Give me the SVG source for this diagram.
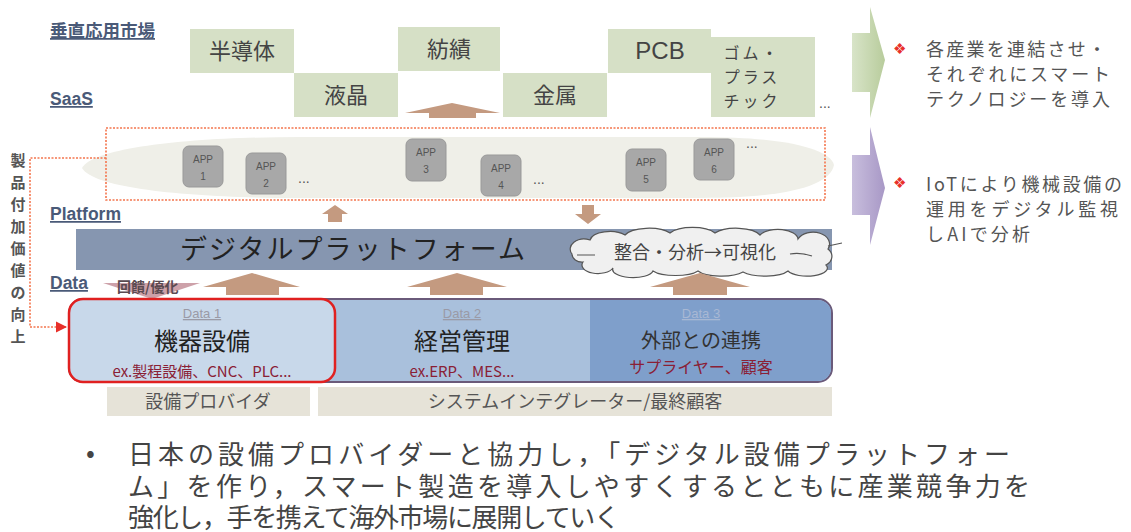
<svg xmlns="http://www.w3.org/2000/svg" width="1131" height="532" viewBox="0 0 1131 532">
<defs>
<style>
.lbl{font-family:"Liberation Sans","Noto Sans CJK JP",sans-serif;font-weight:bold;font-size:17.5px;fill:#4a5a78;text-decoration:underline}
.jp{font-family:"Noto Sans CJK JP",sans-serif}
.mk{fill:#d6e0c6}
.mkt{font-family:"Noto Sans CJK JP",sans-serif;font-size:22px;fill:#444;text-anchor:middle}
.app{fill:#a8a8a8;stroke:#999;stroke-width:1}
.appt{font-family:"Liberation Sans",sans-serif;font-size:10px;fill:#555;text-anchor:middle}
.dots{font-family:"Liberation Sans",sans-serif;font-size:14px;fill:#555}
.brn{fill:#c49a80}
.dt{font-family:"Liberation Sans",sans-serif;font-size:13px;fill:#9a9aa6;text-anchor:middle;text-decoration:underline}
.big{font-family:"Noto Sans CJK JP",sans-serif;font-size:24px;fill:#222;text-anchor:middle}
.ex{font-family:"Noto Sans CJK JP",sans-serif;font-size:15px;fill:#8a2035;text-anchor:middle}
.prov{fill:#e6e3d8}
.provt{font-family:"Noto Sans CJK JP",sans-serif;font-size:18px;fill:#555;text-anchor:middle}
.rt{font-family:"Noto Sans CJK JP",sans-serif;font-size:18px;fill:#555}
.bt{font-family:"Noto Sans CJK JP",sans-serif;font-size:26px;fill:#444}
.bul{font-family:"DejaVu Sans",sans-serif;font-size:15px;fill:#e8302a}
</style>
<marker id="ah" viewBox="0 0 10 10" refX="9" refY="5" markerWidth="7" markerHeight="7" orient="auto"><path d="M0,0L10,5L0,10Z" fill="#e8302a"/></marker>
<linearGradient id="gg" x1="0" x2="1" y1="0" y2="0"><stop offset="0" stop-color="#d8e4c8"/><stop offset="1" stop-color="#b8cc9c"/></linearGradient>
<linearGradient id="pg" x1="0" x2="1" y1="0" y2="0"><stop offset="0" stop-color="#c8bedd"/><stop offset="1" stop-color="#a898c6"/></linearGradient>
</defs>
<rect width="1131" height="532" fill="#ffffff"/>

<g id="layer-labels">
<text class="lbl" x="50" y="37">垂直応用市場</text>
<text class="lbl" x="50" y="105">SaaS</text>
<text class="lbl" x="50" y="220">Platform</text>
<text class="lbl" x="50" y="289">Data</text>
</g>

<g id="markets">
<g id="m-semiconductor"><rect class="mk" x="190" y="29" width="104" height="44"/><text class="mkt" x="242" y="59">半導体</text></g>
<g id="m-lcd"><rect class="mk" x="294" y="73" width="104" height="44"/><text class="mkt" x="346" y="103">液晶</text></g>
<g id="m-textile"><rect class="mk" x="398" y="27" width="102" height="44"/><text class="mkt" x="449" y="57">紡績</text></g>
<g id="m-metal"><rect class="mk" x="503" y="73" width="104" height="44"/><text class="mkt" x="555" y="103">金属</text></g>
<g id="m-pcb"><rect class="mk" x="608" y="29" width="103" height="44"/><text class="mkt" x="660" y="59" style="font-family:'Liberation Sans',sans-serif;font-size:24px">PCB</text></g>
<g id="m-rubber"><rect class="mk" x="711" y="37" width="104" height="80"/>
<text class="mkt" x="752" y="59" style="font-size:16px;letter-spacing:3px">ゴム・</text>
<text class="mkt" x="752" y="83" style="font-size:16px;letter-spacing:3px">プラス</text>
<text class="mkt" x="752" y="107" style="font-size:16px;letter-spacing:3px">チック</text></g>
<text class="dots" x="819" y="108">...</text>
</g>

<g id="saas">
<path d="M82,168 C95,146 200,137 300,137 L700,137 C790,137 830,150 834,165 C830,185 790,198 700,198 L300,198 C200,198 95,190 82,168 Z" fill="#efefe8"/>
<rect x="106" y="128" width="719" height="72" fill="none" stroke="#f4764e" stroke-width="1.6" stroke-dasharray="2 1.5"/>
<g id="app1"><rect class="app" x="183" y="146" width="40" height="41" rx="6"/><text class="appt" x="203" y="163">APP</text><text class="appt" x="203" y="180">1</text></g>
<g id="app2"><rect class="app" x="246" y="153" width="40" height="41" rx="6"/><text class="appt" x="266" y="170">APP</text><text class="appt" x="266" y="187">2</text></g>
<text class="dots" x="298" y="183">...</text>
<g id="app3"><rect class="app" x="406" y="139" width="40" height="42" rx="6"/><text class="appt" x="426" y="156">APP</text><text class="appt" x="426" y="173">3</text></g>
<g id="app4"><rect class="app" x="481" y="155" width="40" height="41" rx="6"/><text class="appt" x="501" y="172">APP</text><text class="appt" x="501" y="189">4</text></g>
<text class="dots" x="533" y="184">...</text>
<g id="app5"><rect class="app" x="626" y="149" width="40" height="42" rx="6"/><text class="appt" x="646" y="166">APP</text><text class="appt" x="646" y="183">5</text></g>
<g id="app6"><rect class="app" x="694" y="139" width="40" height="41" rx="6"/><text class="appt" x="714" y="156">APP</text><text class="appt" x="714" y="173">6</text></g>
<text class="dots" x="746" y="148">...</text>
</g>

<g id="platform">
<rect x="76" y="229" width="756" height="41" fill="#8696b0"/>
<text class="jp" x="180" y="259" font-size="27" fill="#222" textLength="345" lengthAdjust="spacing">デジタルプラットフォーム</text>
</g>

<g id="cloud-analysis">
<path d="M572,254 a14,10 0 0 1 18,-14 a20,10 0 0 1 35,-5 a25,10 0 0 1 45,-2 a25,10 0 0 1 45,0 a25,10 0 0 1 45,2 a20,10 0 0 1 38,4 a14,10 0 0 1 30,10 a12,10 0 0 1 -2,16 a20,8 0 0 1 -38,6 a25,8 0 0 1 -45,1 a25,8 0 0 1 -45,-1 a25,8 0 0 1 -45,0 a20,8 0 0 1 -40,-3 a15,8 0 0 1 -30,-6 a10,8 0 0 1 -11,-8 Z" fill="#f0f0f0" stroke="#555" stroke-width="1.2"/>
<path d="M577,255 H595 M790,254 Q800,252 812,256 M828,246 L842,243" fill="none" stroke="#555" stroke-width="1.2"/>
<text class="jp" x="695" y="259" font-size="18" fill="#444" text-anchor="middle">整合・分析→可視化</text>
</g>

<g id="connectors">
<polygon class="brn" points="452,103 500,113 476,113 476,118 429,118 429,113 405,113"/>
<polygon class="brn" points="335,205 348,214 342,214 342,222 328,222 328,214 322,214"/>
<polygon class="brn" points="582,205 594,205 594,214 601,214 588,224 575,214 582,214"/>
<polygon class="brn" points="252,273 300,287 279,287 279,295 226,295 226,287 203,287"/>
<polygon class="brn" points="457,273 507,287 483,287 483,295 430,295 430,287 407,287"/>
<polygon class="brn" points="700,273 750,287 727,287 727,295 673,295 673,287 650,287"/>
<polygon points="103,283 200,283 152,299" fill="#c08a94" opacity="0.8"/>
<path d="M106,158 H30 V327 H66" fill="none" stroke="#f4764e" stroke-width="1.6" stroke-dasharray="2 1.5" marker-end="url(#ah)"/>
</g>
<text class="jp" x="117" y="292" font-size="14" font-weight="bold" fill="#5a4a50">回饋/優化</text>

<g id="value-label" class="jp" font-size="15" font-weight="bold" fill="#555" text-anchor="middle">
<text x="18" y="166">製</text><text x="18" y="188">品</text><text x="18" y="210">付</text><text x="18" y="232">加</text><text x="18" y="254">価</text><text x="18" y="276">値</text><text x="18" y="298">の</text><text x="18" y="320">向</text><text x="18" y="342">上</text>
</g>

<g id="data">
<path d="M83,299 H818 a14,14 0 0 1 14,14 V368 a14,14 0 0 1 -14,14 H83 a14,14 0 0 1 -14,-14 V313 a14,14 0 0 1 14,-14 Z" fill="#a9c0dc" stroke="#6a5a7a" stroke-width="2"/>
<path d="M590,300 H818 a13,13 0 0 1 13,13 V368 a13,13 0 0 1 -13,13 H590 Z" fill="#7f9fcb"/>
<g id="data1">
<rect x="69" y="299" width="266" height="83" rx="14" fill="#c8d8ea" stroke="#e02020" stroke-width="2.5"/>
<text class="dt" x="202" y="318">Data 1</text>
<text class="big" x="202" y="350">機器設備</text>
<text class="ex" x="202" y="377">ex.製程設備、CNC、PLC...</text>
</g>
<g id="data2">
<text class="dt" x="462" y="318">Data 2</text>
<text class="big" x="462" y="350">経営管理</text>
<text class="ex" x="462" y="377">ex.ERP、MES...</text>
</g>
<g id="data3">
<text class="dt" x="701" y="318" style="fill:#a8b8d4">Data 3</text>
<text class="big" x="701" y="348" style="font-size:20px;fill:#333">外部との連携</text>
<text class="ex" x="701" y="373" style="font-size:16px">サプライヤー、顧客</text>
</g>
</g>

<g id="providers">
<g id="prov-equipment"><rect class="prov" x="107" y="387" width="203" height="29"/><text class="provt" x="208" y="408">設備プロバイダ</text></g>
<g id="prov-si"><rect class="prov" x="318" y="387" width="514" height="29"/><text class="provt" x="575" y="408">システムインテグレーター/最終顧客</text></g>
</g>

<g id="right-notes">
<g id="arrow-green"><polygon points="852,33 870,33 870,7 885,60 870,118 870,92 852,92" fill="url(#gg)"/></g>
<g id="arrow-purple"><polygon points="852,155 870,155 870,127 885,188 870,245 870,215 852,215" fill="url(#pg)"/></g>
<text class="bul" x="893" y="54">❖</text>
<text class="rt" x="926" y="56" textLength="180" lengthAdjust="spacing">各産業を連結させ・</text>
<text class="rt" x="926" y="81" textLength="184" lengthAdjust="spacing">それぞれにスマート</text>
<text class="rt" x="926" y="106" textLength="184" lengthAdjust="spacing">テクノロジーを導入</text>
<text class="bul" x="893" y="188">❖</text>
<text class="rt" x="926" y="191" textLength="196" lengthAdjust="spacing">IoTにより機械設備の</text>
<text class="rt" x="926" y="216" textLength="192" lengthAdjust="spacing">運用をデジタル監視</text>
<text class="rt" x="926" y="241" textLength="104" lengthAdjust="spacing">しAIで分析</text>
</g>

<g id="summary">
<text class="bt" x="86" y="462" font-size="18">•</text>
<text class="bt" x="128" y="464" textLength="882" lengthAdjust="spacing">日本の設備プロバイダーと協力し，「デジタル設備プラットフォー</text>
<text class="bt" x="128" y="496" textLength="902" lengthAdjust="spacing">ム」を作り，スマート製造を導入しやすくするとともに産業競争力を</text>
<text class="bt" x="128" y="527" textLength="492" lengthAdjust="spacing">強化し，手を携えて海外市場に展開していく</text>
</g>
</svg>
